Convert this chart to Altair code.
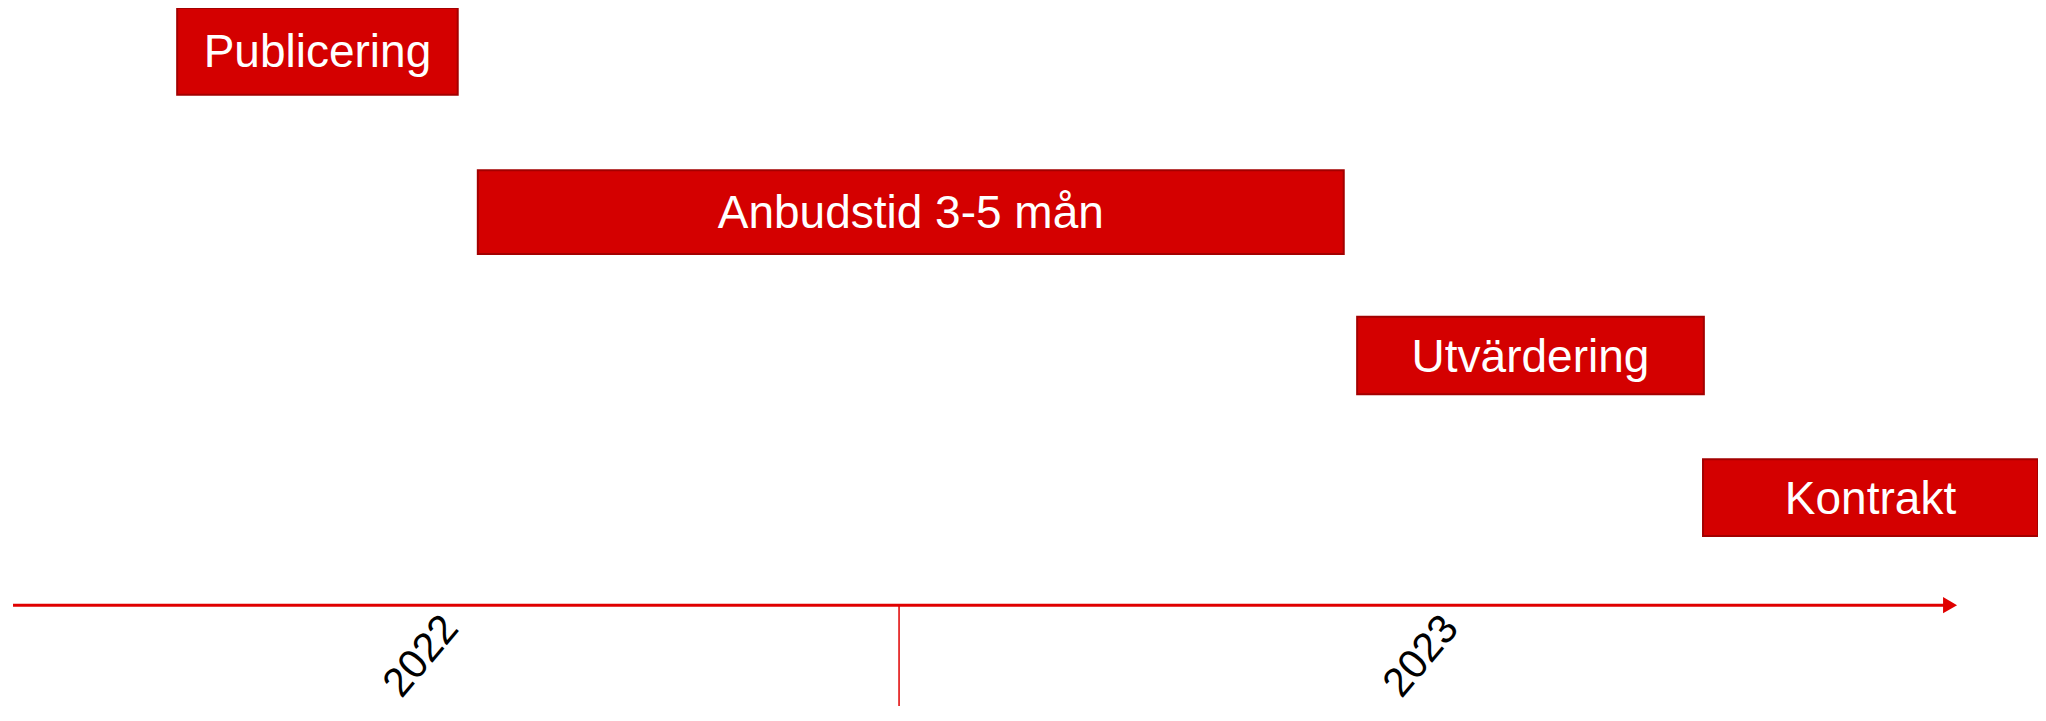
import altair as alt
import pandas as pd

# Phases (x in months relative to Jan 2022, y in % of chart height, 100 = top)
phases = ["Publicering", "Anbudstid 3-5 mån", "Utvärdering", "Kontrakt"]
start = [-2.84, 0.75, 11.25, 15.38]
end = [0.51, 11.09, 15.39, 19.38]
top = [100.0, 77.0, 56.2, 36.0]
bottom = [87.7, 65.1, 45.2, 25.1]

# Timeline axis
axis_x = [-4.80, 18.30]
axis_y = [15.3, 15.3]
arrow_x = [18.33]
arrow_y = [15.3]
tick_x = [5.78]
tick_y_top = [15.3]
tick_y_bottom = [1.0]

# Year labels
years = ["2022", "2023"]
year_x = [0.08, 12.02]
year_y = [8.0, 8.0]

X_DOMAIN = [-4.86, 19.38]
W, H = 2030, 705

xs = alt.Scale(domain=X_DOMAIN, nice=False, zero=False)
ys = alt.Scale(domain=[0, 100], nice=False, zero=False)

bars_df = pd.DataFrame({"fas": phases, "start": start, "slut": end,
                        "topp": top, "botten": bottom})
bars_df["mitt_x"] = (bars_df["start"] + bars_df["slut"]) / 2
bars_df["mitt_y"] = (bars_df["topp"] + bars_df["botten"]) / 2

bars = alt.Chart(bars_df).mark_rect(
    fill="#D40000", stroke="#A30000", strokeWidth=2, clip=True
).encode(
    x=alt.X("start:Q", scale=xs, axis=None),
    x2="slut:Q",
    y=alt.Y("topp:Q", scale=ys, axis=None),
    y2="botten:Q",
)

bar_text = alt.Chart(bars_df).mark_text(
    font="Liberation Sans", fontSize=46, color="white",
    align="center", baseline="middle", dy=2
).encode(
    x=alt.X("mitt_x:Q", scale=xs, axis=None),
    y=alt.Y("mitt_y:Q", scale=ys, axis=None),
    text="fas:N",
)

axis_df = pd.DataFrame({"x": axis_x, "y": axis_y})
axis_line = alt.Chart(axis_df).mark_line(color="#E00000", strokeWidth=3).encode(
    x=alt.X("x:Q", scale=xs, axis=None),
    y=alt.Y("y:Q", scale=ys, axis=None),
)

arrow_df = pd.DataFrame({"x": arrow_x, "y": arrow_y})
arrow = alt.Chart(arrow_df).mark_point(
    shape="triangle-right", filled=True, color="#E00000", size=260, opacity=1
).encode(
    x=alt.X("x:Q", scale=xs, axis=None),
    y=alt.Y("y:Q", scale=ys, axis=None),
)

tick_df = pd.DataFrame({"x": tick_x, "y": tick_y_top, "y2": tick_y_bottom})
tick = alt.Chart(tick_df).mark_rule(color="#E00000", strokeWidth=1.5).encode(
    x=alt.X("x:Q", scale=xs, axis=None),
    y=alt.Y("y:Q", scale=ys, axis=None),
    y2="y2:Q",
)

year_df = pd.DataFrame({"ar": years, "x": year_x, "y": year_y})
year_text = alt.Chart(year_df).mark_text(
    font="Liberation Sans", fontSize=41, color="black", angle=310,
    align="center", baseline="middle"
).encode(
    x=alt.X("x:Q", scale=xs, axis=None),
    y=alt.Y("y:Q", scale=ys, axis=None),
    text="ar:N",
)

chart = alt.layer(bars, bar_text, axis_line, arrow, tick, year_text).properties(
    width=W, height=H, padding=0, autosize=alt.AutoSizeParams(type="none")
).configure_view(stroke=None)

chart.save("out.html", embed_options={"renderer": "svg", "actions": False})
